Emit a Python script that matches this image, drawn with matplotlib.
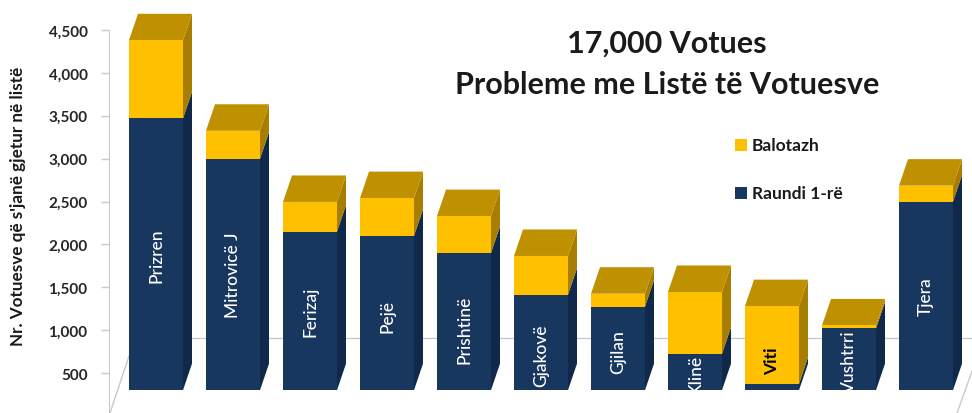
import numpy as np
import matplotlib
matplotlib.use("Agg")
import matplotlib.pyplot as plt
from matplotlib.patches import Rectangle

categories = ["Prizren", "Mitrovicë J", "Ferizaj", "Pejë", "Prishtinë", "Gjakovë",
              "Gjilan", "Klinë", "Viti", "Vushtrri", "Tjera"]
# Front-face heights read against the printed value scale
raundi = [3470, 3000, 2150, 2100, 1900, 1415, 1275, 725, 375, 1020, 2500]
balotazh = [910, 325, 345, 440, 430, 450, 150, 720, 905, 35, 185]
floor_value = 300
ticks = [500, 1000, 1500, 2000, 2500, 3000, 3500, 4000, 4500]
label_centres = [1875, 1654, 1223, 1165, 1013, 710, 756, 500, 650, 640, 1397]
label_colors = ["white"] * 8 + ["black", "white", "white"]

FONT = "Lato"
W, H = 972, 414
PX_PER_VAL = 0.0858
PX_PER_CAT = 77.0
X0 = 156.0          # pixel of first bar centre
Y500 = 374.0        # pixel of tick 500
AX_LEFT = 108.5
AX_TOP = 31.0

fig = plt.figure(figsize=(W / 100, H / 100), dpi=100, facecolor="white")
ax = fig.add_axes([AX_LEFT / W, 0, 1 - AX_LEFT / W, (H - AX_TOP) / H])
ax.set_xlim((AX_LEFT - X0) / PX_PER_CAT, (W - X0) / PX_PER_CAT)
ax.set_ylim(500 - (H - Y500) / PX_PER_VAL, 4500)
ax.set_facecolor("none")

bar_w = 54 / PX_PER_CAT
dx = 9 / PX_PER_CAT
dy = 26.5 / PX_PER_VAL


def cat_x(px):
    return (px - X0) / PX_PER_CAT


def val_y(py):
    return 500 + (Y500 - py) / PX_PER_VAL


GRID = "#c9c9c9"
ax.plot([cat_x(135), cat_x(W)], [val_y(339), val_y(339)], color=GRID, lw=1, zorder=1, clip_on=False)
ax.plot([cat_x(110), cat_x(135)], [val_y(414), val_y(339)], color=GRID, lw=1, zorder=1, clip_on=False)
ax.plot([cat_x(957), cat_x(975)], [val_y(414), val_y(364)], color=GRID, lw=1, zorder=1, clip_on=False)

NAVY, NAVY_SIDE = "#17375e", "#10294a"
GOLD, GOLD_SIDE, GOLD_TOP = "#ffc000", "#a87e00", "#bf9000"

for i, (r, b) in enumerate(zip(raundi, balotazh)):
    x0, x1 = i - bar_w / 2, i + bar_w / 2
    top = r + b
    z = 3 + i
    ax.fill([x1, x1 + dx, x1 + dx, x1], [floor_value, floor_value + dy, r + dy, r],
            color=NAVY_SIDE, lw=0, zorder=z, clip_on=False)
    ax.fill([x1, x1 + dx, x1 + dx, x1], [r, r + dy, top + dy, top],
            color=GOLD_SIDE, lw=0, zorder=z, clip_on=False)
    ax.fill([x0, x0 + dx, x1 + dx, x1], [top, top + dy, top + dy, top],
            color=GOLD_TOP, lw=0, zorder=z, clip_on=False)
    ax.bar(i, r - floor_value, bar_w, bottom=floor_value, color=NAVY, lw=0, zorder=z, clip_on=False)
    ax.bar(i, b, bar_w, bottom=r, color=GOLD, lw=0, zorder=z, clip_on=False)
    t = ax.text(i, label_centres[i], categories[i], rotation=90, ha="center", va="center",
                color=label_colors[i], fontsize=12.5, family=FONT, zorder=30,
                fontweight="bold" if label_colors[i] == "black" else "medium")
    if label_colors[i] == "white":
        t.set_clip_path(Rectangle((x0, floor_value), bar_w, r + b - floor_value, transform=ax.transData))

for s in ["top", "right", "bottom"]:
    ax.spines[s].set_visible(False)
ax.spines["left"].set_color(GRID)
ax.set_xticks([])
ax.set_yticks(ticks)
ax.set_yticklabels([f"{v:,}" for v in ticks], fontsize=11, fontweight="bold", family=FONT, color="#262626")
ax.tick_params(axis="y", length=6, width=1, color=GRID, pad=9)

fig.text(18 / W, 1 - 206 / H, "Nr. Votuesve që s'janë gjetur në listë", rotation=90,
         ha="center", va="center", fontsize=12.3, fontweight="bold", family=FONT, color="#1a1a1a")
fig.text(667 / W, 1 - 44 / H, "17,000 Votues", ha="center", va="center",
         fontsize=22, fontweight="bold", family=FONT, color="#1a1a1a")
fig.text(667 / W, 1 - 85 / H, "Probleme me Listë të Votuesve", ha="center", va="center",
         fontsize=22, fontweight="bold", family=FONT, color="#1a1a1a")

for label, color, py in [("Balotazh", GOLD, 146), ("Raundi 1-rë", NAVY, 194)]:
    fig.patches.append(Rectangle((735 / W, 1 - (py + 6) / H), 12 / W, 12 / H, transform=fig.transFigure,
                                 facecolor=color, lw=0))
    fig.text(752 / W, 1 - py / H, label, ha="left", va="center", fontsize=12.5,
             fontweight="bold", family=FONT, color="#1a1a1a")

fig.savefig("out.png", dpi=100)
